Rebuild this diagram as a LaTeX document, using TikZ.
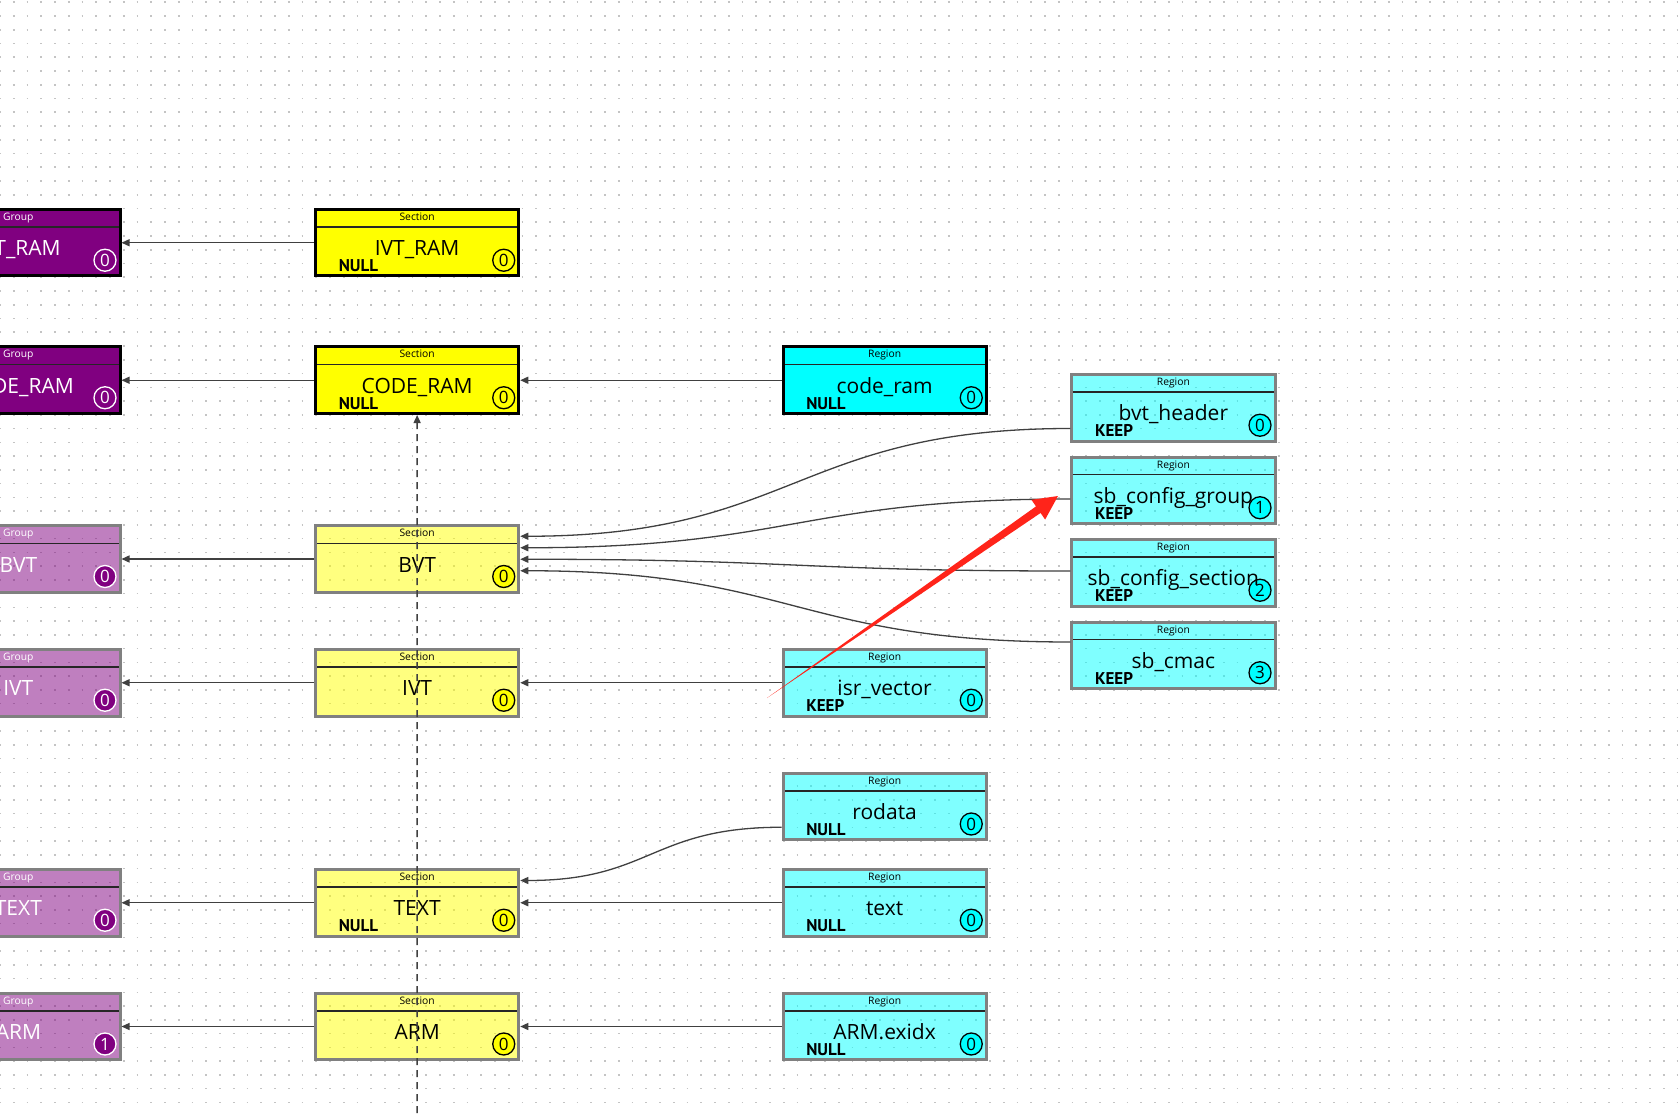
\documentclass[tikz,border=0pt]{standalone}
\usepackage{fontspec}
\setmainfont{Open Sans}
\newfontfamily\flagfont{PT Sans}
\usetikzlibrary{arrows.meta,positioning,calc}
\definecolor{grpfill}{RGB}{128,0,128}
\definecolor{secfill}{RGB}{255,255,0}
\definecolor{regfill}{RGB}{0,255,255}
\definecolor{lightedge}{RGB}{128,128,128}
\definecolor{linkgray}{RGB}{64,64,64}
\definecolor{dotgray}{RGB}{196,196,196}
\definecolor{markred}{RGB}{255,36,26}

\begin{document}
\begin{tikzpicture}[x=1pt, y=-1pt,
  elem/.style n args={5}{draw, line width=3pt, anchor=north west,
     minimum width=203.25pt, minimum height=66.5pt, inner sep=0pt,
     text height=26pt, text depth=0pt, font=\fontsize{21}{21}\selectfont,
     path picture={
       \draw[line width=1.5pt, black!85]
         ([yshift=-17.5pt]path picture bounding box.north west)
         -- ([yshift=-17.5pt]path picture bounding box.north east);
       \node[hdr, #4] at ([yshift=-11pt]path picture bounding box.north) {#1};
       \node[flag] at ([shift={(21.8pt,4.1pt)}]path picture bounding box.south west) {#2};
       \node[#5] at ([shift={(-15pt,15.75pt)}]path picture bounding box.south east) {#3};
     }},
  hdr/.style={anchor=base, inner sep=0pt, minimum width=0pt, minimum height=0pt,
     font=\fontsize{10.3}{11}\selectfont},
  flag/.style={anchor=base west, inner sep=0pt, minimum width=0pt, minimum height=0pt,
     text=black, font=\flagfont\bfseries\fontsize{17}{17}\selectfont},
  badge/.style={circle, draw, line width=1.3pt, minimum size=22pt, inner sep=0pt,
     anchor=center, fill opacity=1, text opacity=1, text height=12pt, text depth=0pt,
     font=\fontsize{17}{17}\selectfont},
  grpbadge/.style={badge, draw=white, fill=grpfill, text=white},
  secbadge/.style={badge, draw=black, fill=secfill, text=black},
  regbadge/.style={badge, draw=black, fill=regfill, text=black},
  grpA/.style={elem={Group}{}{#1}{text=white}{grpbadge}, fill=grpfill, text=white},
  grpB/.style={grpA=#1, draw=lightedge, fill opacity=.5, text opacity=1},
  secA/.style 2 args={elem={Section}{#1}{#2}{text=black}{secbadge}, fill=secfill},
  secB/.style 2 args={secA={#1}{#2}, draw=lightedge, fill opacity=.5, text opacity=1},
  regA/.style 2 args={elem={Region}{#1}{#2}{text=black}{regbadge}, fill=regfill},
  regB/.style 2 args={regA={#1}{#2}, draw=lightedge, fill opacity=.5, text opacity=1},
  arr/.style={-{Triangle[length=8pt,width=7pt]}, line width=1.3pt, draw=linkgray},
  griddot/.style={dotgray, line width=1.6pt, dash pattern=on 1.6pt off 12.15pt}
]
\useasboundingbox (0,0) rectangle (1679,1115);
\clip (0,0) rectangle (1679,1115);
\fill[white] (0,0) rectangle (1679,1115);
% dotted canvas
\foreach \j in {0,...,80}
  \draw[griddot] (-0.8,{2.3+13.75*\j}) -- (1685,{2.3+13.75*\j});

% groups and sections
\node[grpA=0] (ivtramgrp) at (-84.75,208) {IVT\_RAM};
\node[secA={NULL}{0}, right=192.5pt of ivtramgrp] (ivtram) {IVT\_RAM};

\node[grpA=0] (coderamgrp) at (-84.75,345.5) {CODE\_RAM};
\node[secA={NULL}{0}, right=192.5pt of coderamgrp] (coderam) {CODE\_RAM};
\node[regA={NULL}{0}, right=261.25pt of coderam] (coderamreg) {code\_ram};

\node[grpB=0] (bvtgrp) at (-84.75,524.25) {BVT};
\node[secB={}{0}, right=192.5pt of bvtgrp] (bvt) {BVT};

\node[grpB=0] (ivtgrp) at (-84.75,648) {IVT};
\node[secB={}{0}, right=192.5pt of ivtgrp] (ivt) {IVT};
\node[regB={KEEP}{0}, right=261.25pt of ivt] (isrvector) {isr\_vector};

\node[regB={NULL}{0}] (rodata) at (781.5,771.75) {rodata};

\node[grpB=0] (textgrp) at (-84.75,868) {TEXT};
\node[secB={NULL}{0}, right=192.5pt of textgrp] (textsec) {TEXT};
\node[regB={NULL}{0}, right=261.25pt of textsec] (textreg) {text};

\node[grpB=1] (armgrp) at (-84.75,991.75) {ARM};
\node[secB={}{0}, right=192.5pt of armgrp] (arm) {ARM};
\node[regB={NULL}{0}, right=261.25pt of arm] (armexidx) {ARM.exidx};

% regions feeding BVT
\node[regB={KEEP}{0}] (bvthdr) at (1070.25,373) {bvt\_header};
\node[regB={KEEP}{1}] (sbcfggrp) at (1070.25,455.5) {sb\_config\_group};
\node[regB={KEEP}{2}] (sbcfgsec) at (1070.25,538) {sb\_config\_section};
\node[regB={KEEP}{3}] (sbcmac) at (1070.25,620.5) {sb\_cmac};

% links
\draw[arr] (ivtram) -- (ivtramgrp);
\draw[arr] (coderam) -- (coderamgrp);
\draw[arr] (coderamreg) -- (coderam);
\draw[arr] (bvt) -- (bvtgrp);
\draw[arr] (ivt) -- (ivtgrp);
\draw[arr] (isrvector) -- (ivt);
\draw[arr] (textsec) -- (textgrp);
\draw[arr] (textreg) -- (textsec);
\draw[arr] (arm) -- (armgrp);
\draw[arr] (armexidx) -- (arm);
\draw[arr] ([yshift=-55.5pt]bvthdr.north west) to[out=180,in=0,looseness=1.25] ([yshift=-12pt]bvt.north east);
\draw[arr] ([yshift=-43.5pt]sbcfggrp.north west) to[out=180,in=0,looseness=1.25] ([yshift=-23.5pt]bvt.north east);
\draw[arr] ([yshift=-33pt]sbcfgsec.north west) to[out=180,in=0,looseness=1.25] ([yshift=-35pt]bvt.north east);
\draw[arr] ([yshift=-21.5pt]sbcmac.north west) to[out=180,in=0,looseness=1.25] ([yshift=-46.5pt]bvt.north east);
\draw[arr] ([yshift=-55.5pt]rodata.north west) to[out=180,in=0,looseness=1.25] ([yshift=-12.5pt]textsec.north east);

% order line
\coordinate (dashend) at (417.1,1125);
\draw[arr, dash pattern=on 7pt off 5pt] (dashend) -- (coderam.south);

% red marker
\coordinate (rtail) at (767,698);
\coordinate (rtip) at (1058,496);
\coordinate (rbase) at ($(rtip)!24pt!(rtail)$);
\fill[markred] (rtail) -- ($(rbase)!4pt!90:(rtip)$) -- ($(rbase)!12pt!90:(rtip)$)
  -- (rtip) -- ($(rbase)!12pt!-90:(rtip)$) -- ($(rbase)!4pt!-90:(rtip)$) -- cycle;
\end{tikzpicture}
\end{document}
